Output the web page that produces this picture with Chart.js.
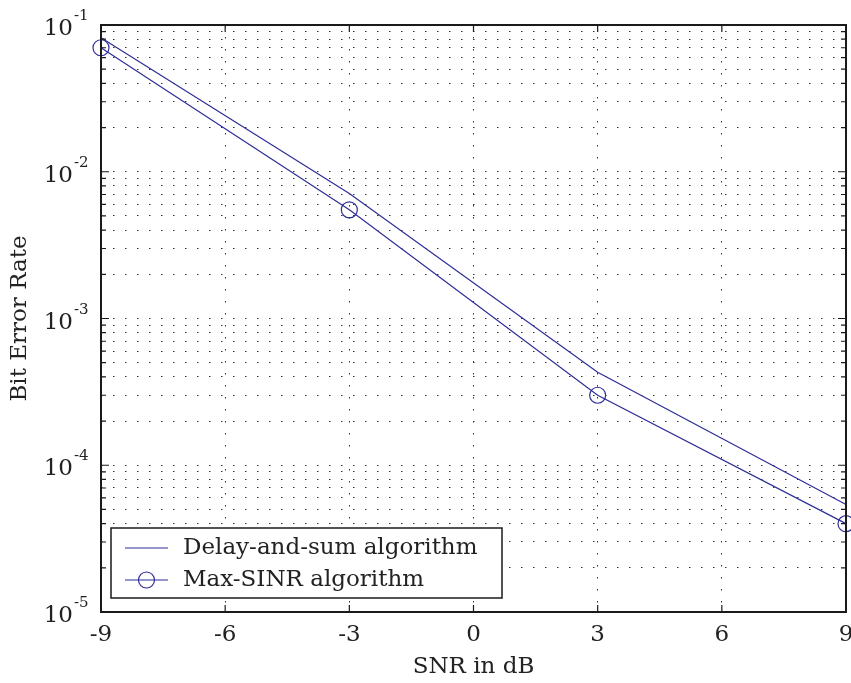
<!DOCTYPE html>
<html>
<head>
<meta charset="utf-8">
<title>BER vs SNR</title>
<script src="https://cdn.jsdelivr.net/npm/chart.js@4.4.1/dist/chart.umd.min.js"></script>
<style>
  html, body { margin: 0; padding: 0; background: #fff; }
  #wrap { width: 851px; height: 683px; }
</style>
</head>
<body>
<div id="wrap"><canvas id="berChart" width="851" height="683"></canvas></div>
<script>
// --- données ---
const snrDb = [-9, -3, 3, 9];
const delayAndSum = [0.082, 0.0071, 0.00043, 0.000054];
const maxSinr = [0.070, 0.0055, 0.00030, 0.000040];
const xTicks = [-9, -6, -3, 0, 3, 6, 9];
const yDecades = [1e-5, 1e-4, 1e-3, 1e-2, 1e-1];
const seriesLabels = ['Delay-and-sum algorithm', 'Max-SINR algorithm'];

const lineColor = '#2e2e96';
const textColor = '#222';
const fontFamily = '"DejaVu Serif", serif';

// toutes les graduations log (1..9 par décade)
function logTicks() {
  const out = [];
  for (let i = 0; i < yDecades.length - 1; i++) {
    for (let k = 1; k <= 9; k++) out.push(yDecades[i] * k);
  }
  out.push(yDecades[yDecades.length - 1]);
  return out;
}

function isDecade(v) {
  const e = Math.log10(v);
  return Math.abs(e - Math.round(e)) < 1e-6;
}

function toPoints(ys) {
  return snrDb.map((x, i) => ({ x: x, y: ys[i] }));
}

// cadre, graduations intérieures, étiquettes des axes et légende façon MATLAB
const framePlugin = {
  id: 'frame',
  afterDatasetsDraw(chart) {
    const { ctx, chartArea: a, scales } = chart;
    ctx.save();
    ctx.strokeStyle = '#1a1a1a';
    ctx.lineWidth = 1.2;
    ctx.setLineDash([]);
    ctx.beginPath();
    xTicks.forEach(v => {
      const px = scales.x.getPixelForValue(v);
      ctx.moveTo(px, a.bottom); ctx.lineTo(px, a.bottom - 7);
      ctx.moveTo(px, a.top); ctx.lineTo(px, a.top + 7);
    });
    logTicks().forEach(v => {
      const py = scales.y.getPixelForValue(v);
      const len = isDecade(v) ? 8 : 5;
      ctx.moveTo(a.left, py); ctx.lineTo(a.left + len, py);
      ctx.moveTo(a.right, py); ctx.lineTo(a.right - len, py);
    });
    ctx.stroke();

    ctx.lineWidth = 2;
    ctx.strokeRect(a.left, a.top, a.right - a.left, a.bottom - a.top);

    ctx.fillStyle = textColor;
    // étiquettes de l'axe x
    ctx.font = '23px ' + fontFamily;
    ctx.textAlign = 'center';
    ctx.textBaseline = 'top';
    xTicks.forEach(v => {
      ctx.fillText(String(v), scales.x.getPixelForValue(v), a.bottom + 12);
    });

    // étiquettes de l'axe y : 10 + exposant
    yDecades.forEach(v => {
      const py = scales.y.getPixelForValue(v);
      const exp = String(Math.round(Math.log10(v)));
      ctx.font = '23px ' + fontFamily;
      ctx.textAlign = 'right';
      ctx.textBaseline = 'alphabetic';
      ctx.fillText('10', a.left - 28, py + 10);
      ctx.font = '15px ' + fontFamily;
      ctx.textAlign = 'left';
      ctx.fillText(exp, a.left - 27, py - 5);
    });

    // légende
    const bx = a.left + 10, by = a.bottom - 84, bw = 391, bh = 70;
    ctx.fillStyle = '#fff';
    ctx.fillRect(bx, by, bw, bh);
    ctx.lineWidth = 1.5;
    ctx.strokeStyle = '#1a1a1a';
    ctx.strokeRect(bx, by, bw, bh);

    ctx.font = '23px ' + fontFamily;
    ctx.textAlign = 'left';
    ctx.textBaseline = 'middle';
    seriesLabels.forEach((label, i) => {
      const ly = by + 20 + i * 32;
      ctx.strokeStyle = lineColor;
      ctx.lineWidth = 1.2;
      ctx.beginPath();
      ctx.moveTo(bx + 14, ly); ctx.lineTo(bx + 57, ly);
      ctx.stroke();
      if (i === 1) {
        ctx.beginPath();
        ctx.arc(bx + 35.5, ly, 8, 0, Math.PI * 2);
        ctx.stroke();
      }
      ctx.fillStyle = textColor;
      ctx.fillText(label, bx + 72, ly);
    });
    ctx.restore();
  }
};

new Chart(document.getElementById('berChart'), {
  type: 'line',
  data: {
    datasets: [
      {
        label: seriesLabels[0],
        data: toPoints(delayAndSum),
        borderColor: lineColor,
        borderWidth: 1.2,
        pointRadius: 0,
        fill: false
      },
      {
        label: seriesLabels[1],
        data: toPoints(maxSinr),
        borderColor: lineColor,
        borderWidth: 1.2,
        pointRadius: 8,
        pointBorderWidth: 1.2,
        pointBorderColor: lineColor,
        pointBackgroundColor: 'rgba(0,0,0,0)',
        fill: false
      }
    ]
  },
  options: {
    responsive: false,
    animation: false,
    clip: false,
    // pas de marge auto pour les cercles (sinon la zone rétrécit de ~4 px à droite)
    layout: { autoPadding: false, padding: { top: 25, right: 5, left: 0, bottom: 0 } },
    plugins: {
      legend: { display: false },
      tooltip: { enabled: false }
    },
    scales: {
      x: {
        type: 'linear',
        min: -9,
        max: 9,
        afterBuildTicks: scale => { scale.ticks = xTicks.map(v => ({ value: v })); },
        afterFit: scale => { scale.height = 71; scale.paddingLeft = 0; scale.paddingRight = 0; },
        grid: { drawTicks: false, color: '#333', lineWidth: 1, borderDash: [1.5, 10.5] },
        border: { display: false, dash: [1.5, 10.5] },
        ticks: {
          autoSkip: false,
          maxRotation: 0,
          padding: 12,
          font: { family: fontFamily, size: 23 },
          // étiquettes dessinées par le plugin
          callback: () => ''
        },
        title: {
          display: true,
          text: 'SNR in dB',
          color: textColor,
          font: { family: fontFamily, size: 23 },
          padding: { top: 0, bottom: 2 }
        }
      },
      y: {
        type: 'logarithmic',
        min: 1e-5,
        max: 1e-1,
        afterBuildTicks: scale => { scale.ticks = logTicks().map(v => ({ value: v })); },
        afterFit: scale => { scale.width = 101; scale.paddingTop = 0; scale.paddingBottom = 0; },
        grid: { drawTicks: false, color: '#333', lineWidth: 1, borderDash: [1.5, 10.5] },
        border: { display: false, dash: [1.5, 10.5] },
        ticks: {
          autoSkip: false,
          padding: 13,
          font: { family: fontFamily, size: 23 },
          // les étiquettes 10^n sont dessinées par le plugin
          callback: () => ''
        },
        title: {
          display: true,
          text: 'Bit Error Rate',
          color: textColor,
          font: { family: fontFamily, size: 23 },
          padding: { top: 6, bottom: 0 }
        }
      }
    }
  },
  plugins: [framePlugin]
});
</script>
</body>
</html>
